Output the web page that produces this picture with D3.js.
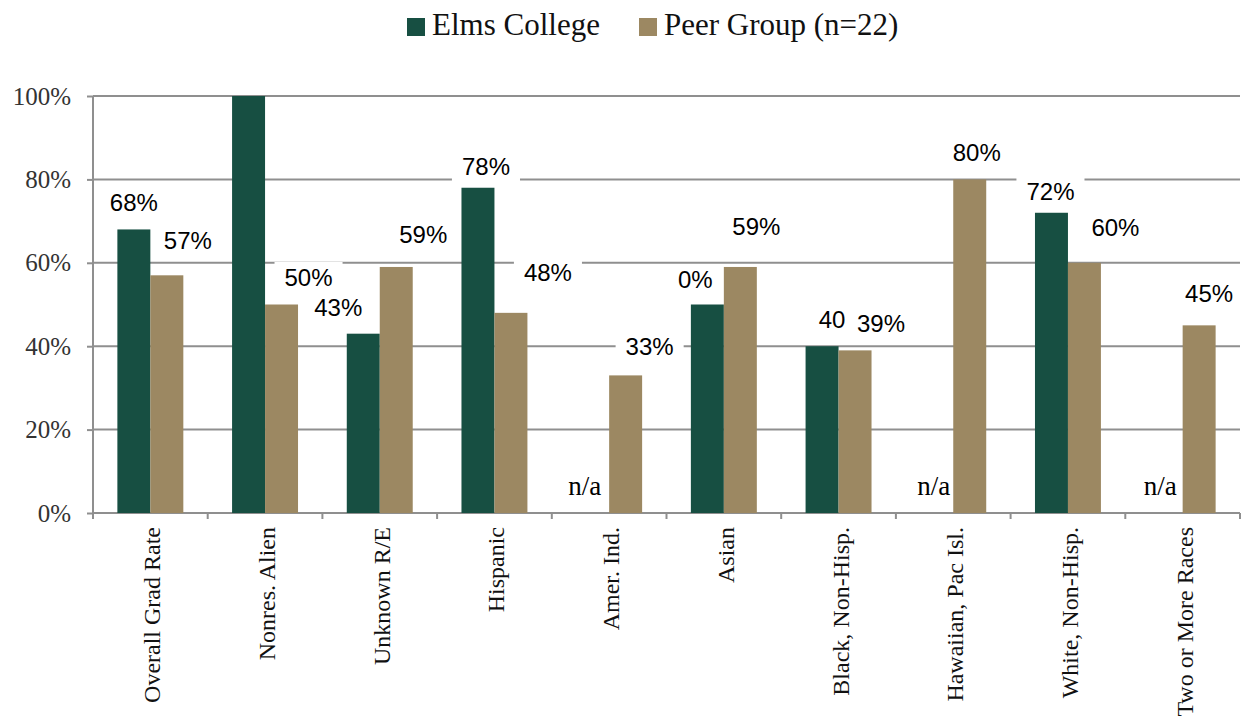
<!DOCTYPE html>
<html>
<head>
<meta charset="utf-8">
<script src="https://cdn.jsdelivr.net/npm/d3@7"></script>
<style>
  html, body { margin: 0; padding: 0; background: #fff; }
  svg { display: block; }
</style>
</head>
<body>
<div id="chart"></div>
<script>
// Graduation rate by race/ethnicity, Elms College vs peer group

const categories = [
  "Overall Grad Rate", "Nonres. Alien", "Unknown R/E", "Hispanic", "Amer. Ind.",
  "Asian", "Black, Non-Hisp.", "Hawaiian, Pac Isl.", "White, Non-Hisp.", "Two or More Races"
];
const seriesNames = ["Elms College", "Peer Group (n=22)"];
const elmsValues = [68, 100, 43, 78, null, 50, 40, null, 72, null];
const peerValues = [57, 50, 59, 48, 33, 59, 39, 80, 60, 45];
// label text as printed on the chart (null = no label)
const elmsLabels = ["68%", null, "43%", "78%", "n/a", "0%", "40", "n/a", "72%", "n/a"];
const peerLabels = ["57%", "50%", "59%", "48%", "33%", "59%", "39%", "80%", "60%", "45%"];
const yTicks = [0, 20, 40, 60, 80, 100];

// hand-placed label nudges (px from bar centre / bar top), as in the source chart
const elmsNudge = [[0, -27], null, [-25, -26], [8, -21], [-8, -25], [-12, -25], [10, -27], [-3, -25], [-1, -21], [-6, -25]];
const peerNudge = [[21, -35], [27, -27], [27, -32], [37, -40], [24, -29], [16, -40], [26, -27], [7, -27], [31, -35], [10, -32]];

const colors = ["#174f42", "#9c8862"];
const serif = "'Liberation Serif', 'Times New Roman', serif";
const sans = "'Liberation Sans', Arial, sans-serif";

const width = 1243;
const height = 722;
const plot = { left: 93, right: 1240, top: 96, bottom: 513 };

const svg = d3.select("#chart").append("svg")
  .attr("width", width)
  .attr("height", height);

const x0 = d3.scaleBand()
  .domain(categories)
  .range([plot.left, plot.right])
  .paddingInner(0.425)
  .paddingOuter(0.2125);
const x1 = d3.scaleBand()
  .domain(seriesNames)
  .range([0, x0.bandwidth()]);
const y = d3.scaleLinear().domain([0, 100]).range([plot.bottom, plot.top]);
const step = x0.step();

// gridlines
svg.append("g")
  .selectAll("line")
  .data(yTicks.filter((t) => t > 0))
  .enter()
  .append("line")
  .attr("x1", plot.left)
  .attr("x2", plot.right)
  .attr("y1", (d) => y(d))
  .attr("y2", (d) => y(d))
  .attr("stroke", "#8f8f8f")
  .attr("stroke-width", 2);

// y axis
const yAxis = svg.append("g")
  .attr("transform", `translate(${plot.left},0)`)
  .call(d3.axisLeft(y).tickValues(yTicks).tickSize(6).tickPadding(16).tickFormat((d) => d + "%"));
yAxis.attr("font-family", null).attr("font-size", null);
yAxis.select(".domain").attr("stroke", "#8f8f8f").attr("stroke-width", 2)
  .attr("d", `M0,${plot.top}V${plot.bottom}`);
yAxis.selectAll(".tick line").attr("stroke", "#8f8f8f").attr("stroke-width", 2);
yAxis.selectAll(".tick text")
  .style("font-family", serif)
  .style("font-size", "25px")
  .attr("fill", "#333");

// x axis: ticks at category boundaries
const boundaries = categories.map((c) => x0(c) - (step - x0.bandwidth()) / 2).concat([plot.right]);
svg.append("line")
  .attr("x1", plot.left)
  .attr("x2", plot.right)
  .attr("y1", plot.bottom)
  .attr("y2", plot.bottom)
  .attr("stroke", "#8f8f8f")
  .attr("stroke-width", 2);
svg.append("g")
  .selectAll("line")
  .data(boundaries)
  .enter()
  .append("line")
  .attr("x1", (d) => d)
  .attr("x2", (d) => d)
  .attr("y1", plot.bottom)
  .attr("y2", plot.bottom + 6)
  .attr("stroke", "#8f8f8f")
  .attr("stroke-width", 2);

svg.append("g")
  .selectAll("text")
  .data(categories)
  .enter()
  .append("text")
  .attr("transform", (d) => `translate(${x0(d) + x0.bandwidth() / 2 + 2},${plot.bottom + 14}) rotate(-90)`)
  .attr("text-anchor", "end")
  .attr("dominant-baseline", "central")
  .attr("font-family", serif)
  .attr("font-size", 24)
  .attr("fill", "#111")
  .text((d) => d);

// bars
const series = [
  { name: seriesNames[0], values: elmsValues, labels: elmsLabels, nudge: elmsNudge, color: colors[0] },
  { name: seriesNames[1], values: peerValues, labels: peerLabels, nudge: peerNudge, color: colors[1] },
];

series.forEach((s) => {
  svg.append("g")
    .selectAll("rect")
    .data(categories.map((c, i) => ({ c, v: s.values[i] })).filter((d) => d.v != null))
    .enter()
    .append("rect")
    .attr("x", (d) => x0(d.c) + x1(s.name))
    .attr("y", (d) => y(d.v))
    .attr("width", x1.bandwidth())
    .attr("height", (d) => y(0) - y(d.v))
    .attr("fill", s.color);
});

// data labels with white boxes (series 2 drawn over series 1)
series.forEach((s) => {
  categories.forEach((c, i) => {
    const txt = s.labels[i];
    if (txt == null) return;
    const v = s.values[i] == null ? 0 : s.values[i];
    const [dx, dy] = s.nudge[i];
    const cx = x0(c) + x1(s.name) + x1.bandwidth() / 2 + dx;
    const cy = y(v) + dy;
    const isNA = txt === "n/a";
    const g = svg.append("g");
    const rect = g.append("rect").attr("fill", isNA ? "none" : "#fff");
    const t = g.append("text")
      .attr("x", cx)
      .attr("y", cy + (isNA ? 7 : 8.5))
      .attr("text-anchor", "middle")
      .attr("font-family", isNA ? serif : sans)
      .attr("font-size", isNA ? 27 : 24)
      .attr("fill", "#000")
      .text(txt);
    const w = t.node().getComputedTextLength();
    rect.attr("x", cx - w / 2 - 10)
      .attr("y", cy - 15.5)
      .attr("width", w + 20)
      .attr("height", 31);
  });
});

// legend
const legend = svg.append("g");
const legendX = [407, 639];
seriesNames.forEach((name, i) => {
  legend.append("rect")
    .attr("x", legendX[i])
    .attr("y", 18)
    .attr("width", 18)
    .attr("height", 18)
    .attr("fill", colors[i]);
  legend.append("text")
    .attr("x", legendX[i] + 25)
    .attr("y", 35)
    .attr("font-family", serif)
    .attr("font-size", 31)
    .attr("fill", "#111")
    .text(name);
});
</script>
</body>
</html>
